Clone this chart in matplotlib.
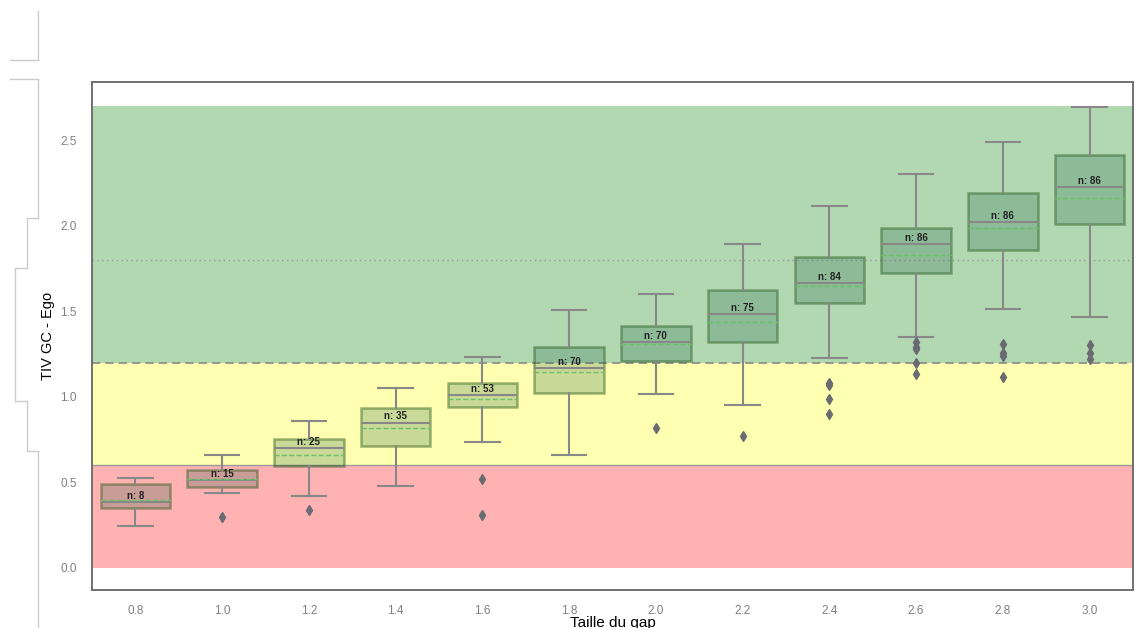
import matplotlib
matplotlib.use("Agg")
import matplotlib.pyplot as plt
from matplotlib.lines import Line2D

plt.rcParams['font.family'] = ['Liberation Sans', 'DejaVu Sans']

# values
gaps = ["0.8", "1.0", "1.2", "1.4", "1.6", "1.8", "2.0", "2.2", "2.4", "2.6", "2.8", "3.0"]
counts = [8, 15, 25, 35, 53, 70, 70, 75, 84, 86, 86, 86]
whislo = [0.245, 0.44, 0.42, 0.479, 0.736, 0.66, 1.015, 0.95, 1.227, 1.351, 1.515, 1.466]
q1 = [0.352, 0.471, 0.596, 0.709, 0.942, 1.024, 1.209, 1.32, 1.55, 1.721, 1.856, 2.008]
med = [0.384, 0.514, 0.70, 0.849, 1.009, 1.166, 1.32, 1.484, 1.665, 1.893, 2.021, 2.225]
mean = [0.397, 0.518, 0.662, 0.82, 0.989, 1.143, 1.31, 1.439, 1.649, 1.826, 1.984, 2.163]
q3 = [0.489, 0.572, 0.755, 0.935, 1.079, 1.293, 1.412, 1.624, 1.815, 1.986, 2.192, 2.411]
whishi = [0.524, 0.658, 0.86, 1.051, 1.232, 1.509, 1.599, 1.893, 2.116, 2.301, 2.487, 2.691]
fliers = [[], [0.296], [0.339], [], [0.52, 0.31], [], [0.816], [0.771],
          [1.082, 1.067, 0.987, 0.90], [1.318, 1.293, 1.277, 1.196, 1.131],
          [1.308, 1.254, 1.238, 1.114], [1.301, 1.254, 1.223]]

# zones
zones = [(0.0, 0.6, 'red'), (0.6, 1.2, 'yellow'), (1.2, 2.7, 'green')]

W, H = 1137, 628
fig = plt.figure(figsize=(W / 100, H / 100), dpi=100)
ax = fig.add_axes([92 / W, 1 - 590 / H, (1133 - 92) / W, (590 - 82) / H])

for lo, hi, c in zones:
    ax.axhspan(lo, hi, color=c, alpha=0.3, lw=0, zorder=0)
ax.axhline(0.6, color='#999999', lw=1, zorder=1)
ax.axhline(1.2, color='#888888', lw=1.2, ls=(0, (5, 3)), zorder=1)
ax.axhline(1.8, color='#999999', lw=1, ls=(0, (1, 2.5)), zorder=1)

stats = []
for i in range(len(gaps)):
    stats.append(dict(med=med[i], q1=q1[i], q3=q3[i], whislo=whislo[i],
                      whishi=whishi[i], mean=mean[i], fliers=fliers[i]))

ax.bxp(stats, positions=range(len(gaps)), widths=0.8, patch_artist=True,
       showmeans=True, meanline=True,
       boxprops=dict(facecolor=(0.05, 0.33, 0.22, 0.22), edgecolor=(0.15, 0.35, 0.1, 0.45), lw=1.8),
       medianprops=dict(color='#888888', lw=1.5),
       meanprops=dict(color='#6cc06c', ls='--', lw=1),
       whiskerprops=dict(color='#888888', lw=1.5),
       capprops=dict(color='#888888', lw=1.5),
       flierprops=dict(marker='d', markerfacecolor='#6a6a72', markeredgecolor='#6a6a72', markersize=5),
       zorder=3)

for i, n in enumerate(counts):
    ax.text(i, med[i] + 0.037, f"n: {n}", ha='center', va='center',
            fontsize=7, fontweight='bold', color='#222222', zorder=5)

ax.set_xlim(-0.5, len(gaps) - 0.5)
ax.set_ylim(-0.13, 2.84)
ax.set_xticks(range(len(gaps)))
ax.set_xticklabels(gaps)
ax.set_yticks([0.0, 0.5, 1.0, 1.5, 2.0, 2.5])
ax.tick_params(length=0, labelsize=8.5, labelcolor='#808080', pad=11)
for s in ax.spines.values():
    s.set_color('#666666')
    s.set_linewidth(1.3)
ax.set_ylabel("TIV GC - Ego", fontsize=10.5, labelpad=4)
ax.set_xlabel("Taille du gap", fontsize=11, labelpad=-1)

# light bracket lines at the left edge of the page
def seg(x0, y0, x1, y1):
    fig.add_artist(Line2D([x0 / W, x1 / W], [1 - y0 / H, 1 - y1 / H],
                          color='#cccccc', lw=1, transform=fig.transFigure))

seg(38, 11, 38, 60); seg(10, 60, 38, 60)
seg(10, 79, 38, 79); seg(38, 79, 38, 218); seg(27, 218, 38, 218)
seg(27, 218, 27, 268); seg(15, 268, 27, 268); seg(15, 268, 15, 401)
seg(15, 401, 27, 401); seg(27, 401, 27, 451); seg(27, 451, 38, 451)
seg(38, 451, 38, 628)

fig.savefig("out.png", dpi=100)
